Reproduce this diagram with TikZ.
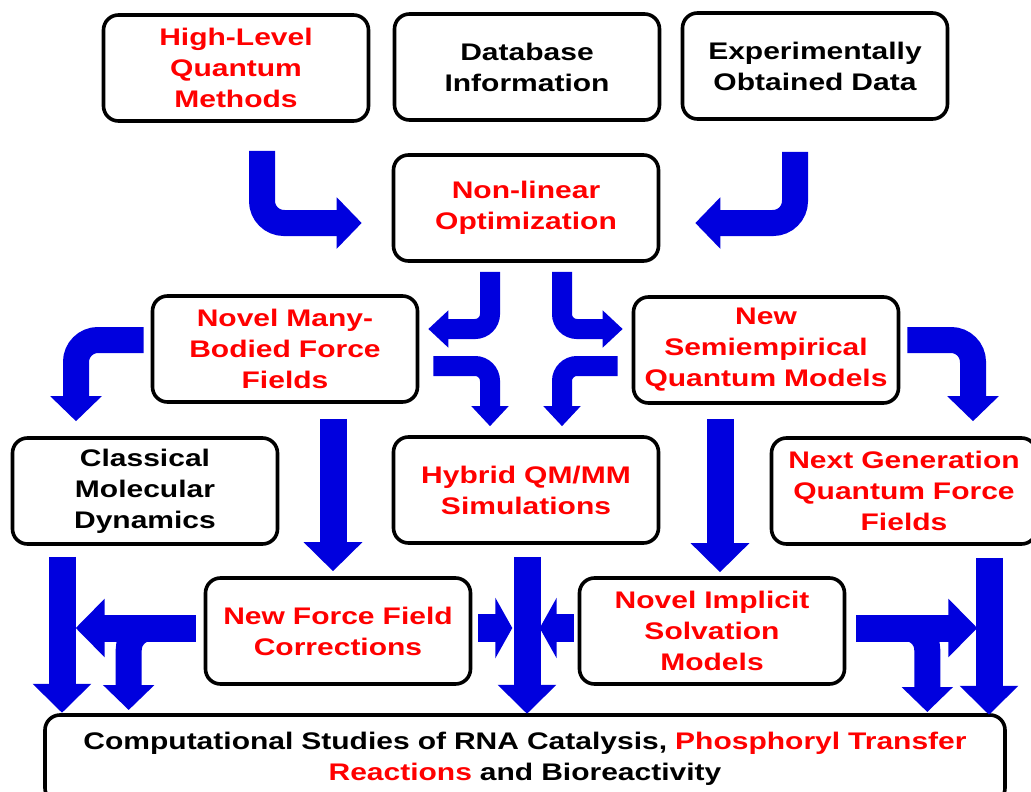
\documentclass[tikz,border=0pt]{standalone}
\usepackage{fontspec}
\setmainfont{Liberation Sans}[FakeStretch=1.25]
\usepackage{xcolor}
\usetikzlibrary{arrows.meta, calc, positioning}

\definecolor{flowblue}{RGB}{0,0,222}
\definecolor{hotred}{RGB}{255,0,0}

\begin{document}
\begin{tikzpicture}[x=1pt, y=-1pt,
    box/.style={draw, line width=3.6pt, rounded corners=15pt, fill=white,
        minimum width=265pt, minimum height=106pt, text width=258pt,
        align=center, font=\fontsize{24}{31}\selectfont\bfseries},
    redbox/.style={box, text=hotred},
    flowarrow/.style={draw=flowblue, line width=27pt, rounded corners=22pt,
        -{Triangle[length=29pt,width=57pt]}},
    midflow/.style={draw=flowblue, line width=26pt, rounded corners=22pt,
        -{Triangle[length=25pt,width=50pt]}},
    thinflow/.style={draw=flowblue, line width=20pt, rounded corners=15pt,
        -{Triangle[length=20pt,width=36pt]}},
    stubflow/.style={draw=flowblue, line width=28pt,
        -{Triangle[length=17pt,width=60pt]}}]
\useasboundingbox (0,0) rectangle (1031,792);

% boxes
\node[redbox] (hlqm) at (236, 68) {High-Level\\Quantum\\Methods};
\node[box] (dbinfo) at (527, 67) {Database\\Information};
\node[box] (expdata) at (815, 66) {Experimentally\\Obtained Data};
\node[redbox] (nlopt) at (526, 208) {Non-linear\\Optimization};
\node[redbox] (manybody) at (285, 349) {Novel Many-\\Bodied Force\\Fields};
\node[redbox] (semiemp) at (766, 350) {New\\Semiempirical\\Quantum Models};
\node[box] (classmd) at (145, 491) {Classical\\Molecular\\Dynamics};
\node[redbox] (qmmm) at (526, 490) {Hybrid QM/MM\\Simulations};
\node[redbox] (nextgen) at (904, 491) {Next Generation\\Quantum Force\\Fields};
\node[redbox] (ffcorr) at (338, 631) {New Force Field\\Corrections};
\node[redbox] (implsolv) at (712, 631) {Novel Implicit\\Solvation\\Models};
\node[box, minimum width=960pt, minimum height=88pt, text width=950pt]
    (rnastudy) at (525, 759)
    {Computational Studies of RNA Catalysis, \textcolor{hotred}{Phosphoryl Transfer}\\
     \textcolor{hotred}{Reactions} and Bioreactivity};

% top row into the optimization
\draw[midflow] ($(hlqm.south)+(26,28)$) |- ($(nlopt.west)+(-30,15)$);
\draw[midflow] ($(expdata.south)+(-20,31)$) |- ($(nlopt.east)+(35,15)$);

% optimization into the two models
\draw[thinflow] ($(nlopt.south)+(-36,9)$) |- ($(manybody.east)+(9,-20)$);
\draw[thinflow] ($(nlopt.south)+(36,9)$) |- ($(semiemp.west)+(-9,-21)$);
\draw[thinflow] ($(manybody.east)+(14,17)$) -| ($(qmmm.north)+(-36,-9)$);
\draw[thinflow] ($(semiemp.west)+(-14,16)$) -| ($(qmmm.north)+(36,-9)$);

% side branches
\draw[midflow] ($(manybody.west)+(-7,-9)$) -| ($(classmd.north)+(-69,-15)$);
\draw[midflow] ($(semiemp.east)+(7,-10)$) -| ($(nextgen.north)+(69,-15)$);
\draw[flowarrow] ($(manybody.south)+(48,15)$) -- ($(ffcorr.north)+(-5,-5)$);
\draw[flowarrow] ($(semiemp.south)+(-46,14)$) -- ($(implsolv.north)+(8,-4)$);

% into the studies
\draw[flowarrow] ($(classmd.south)+(-83,11)$) -- ++(0,156);
\draw[flowarrow] ($(qmmm.south)+(1,12)$) -- ++(0,157);
\draw[flowarrow] ($(nextgen.south)+(85,12)$) -- ++(0,157);
\draw[flowarrow] ($(ffcorr.west)+(-8,-3)$) -- ++(-120,0);
\draw[midflow] ($(ffcorr.west)+(-8,-3)$) -- ++(-67,0) -- ++(0,82);
\draw[flowarrow] ($(implsolv.east)+(10,-3)$) -- ++(121,0);
\draw[midflow] ($(implsolv.east)+(10,-3)$) -- ++(71,0) -- ++(0,84);
\draw[stubflow] ($(ffcorr.east)+(6,-3)$) -- ++(34,0);
\draw[stubflow] ($(implsolv.west)+(-4,-3)$) -- ++(-34,0);
\end{tikzpicture}
\end{document}
